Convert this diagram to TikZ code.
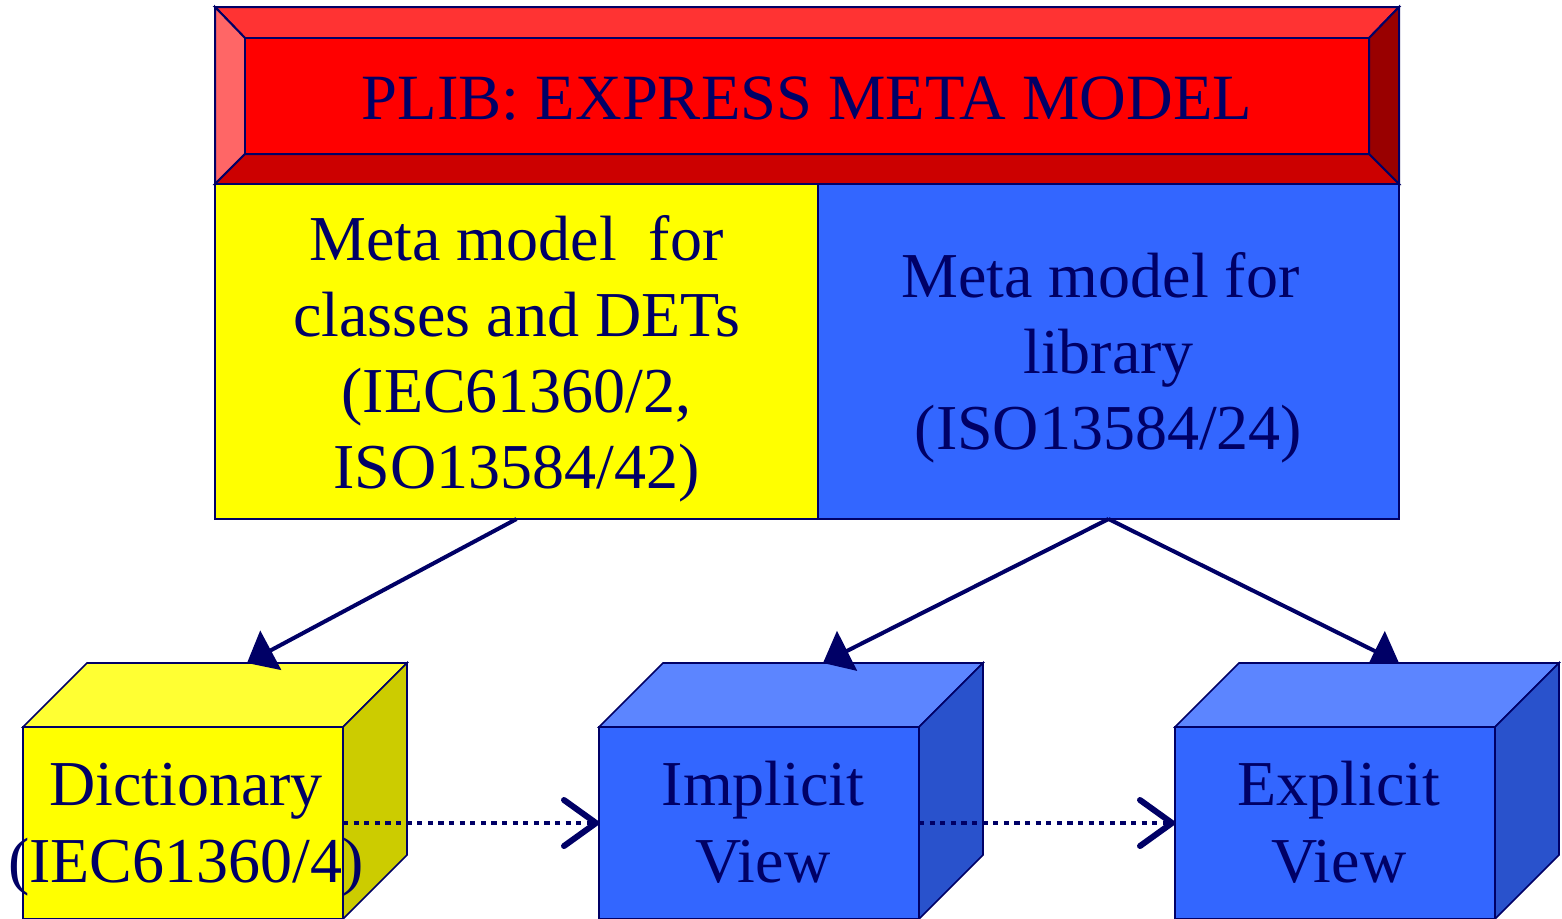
\documentclass[tikz,border=0pt]{standalone}
\usepackage{fontspec}
\setmainfont{Liberation Serif}
\usetikzlibrary{arrows.meta}
\definecolor{navy}{HTML}{000066}
\definecolor{bvtop}{HTML}{FF3333}
\definecolor{bvleft}{HTML}{FF6666}
\definecolor{bvright}{HTML}{990000}
\definecolor{bvbottom}{HTML}{CC0000}
\definecolor{bvcenter}{HTML}{FF0000}
\definecolor{yel}{HTML}{FFFF00}
\definecolor{yeltop}{HTML}{FFFF33}
\definecolor{yelright}{HTML}{CCCC00}
\definecolor{blu}{HTML}{3366FF}
\definecolor{blutop}{HTML}{5C85FF}
\definecolor{bluright}{HTML}{2952CC}
\begin{document}
\begin{tikzpicture}[x=0.5pt,y=-0.5pt,
  face/.style={draw=navy,line width=1pt},
  panel/.style={draw=navy,line width=1pt,inner sep=0pt,outer sep=0pt,minimum height=167.5pt},
  cubefront/.style={draw=navy,line width=0.8pt,minimum width=160pt,minimum height=96pt,inner sep=0pt,outer sep=0pt},
  cubeface/.style={draw=navy,line width=0.8pt},
  lbl/.style={anchor=base,text=navy,inner sep=0pt,outer sep=0pt},
  solidarrow/.style={draw=navy,line width=2pt,-{Triangle[length=13.5pt,width=22pt]}},
  dotarrow/.style={draw=navy,line width=2.4pt,dash pattern=on 2.6pt off 2.7pt,
     -{Straight Barb[length=16pt,width=23pt,line width=3pt,round]}}
]
\fill[white] (0,0) rectangle (1562,918);
\useasboundingbox (0,0) rectangle (1562,918);

% header bevel
\node[inner sep=0pt,outer sep=0pt,minimum width=592pt,minimum height=88.5pt] (plib) at (807,95.5) {};
\node[inner sep=0pt,outer sep=0pt,minimum width=562pt,minimum height=58pt] (plibin) at (807,96) {};
\filldraw[face,fill=bvtop] (plib.north west) -- (plib.north east) -- (plibin.north east) -- (plibin.north west) -- cycle;
\filldraw[face,fill=bvleft] (plib.north west) -- (plibin.north west) -- (plibin.south west) -- (plib.south west) -- cycle;
\filldraw[face,fill=bvright] (plib.north east) -- (plib.south east) -- (plibin.south east) -- (plibin.north east) -- cycle;
\filldraw[face,fill=bvbottom] (plib.south west) -- (plibin.south west) -- (plibin.south east) -- (plib.south east) -- cycle;
\filldraw[face,fill=bvcenter] (plibin.north west) rectangle (plibin.south east);
\node[lbl,font=\fontsize{32.3pt}{38pt}\selectfont] (plibtxt) at (807,119) {PLIB: EXPRESS META MODEL};

% meta model panels
\node[panel,fill=yel,minimum width=301.5pt] (ymeta) at (516.5,351.5) {};
\node[panel,fill=blu,minimum width=290.5pt] (bmeta) at (1108.5,351.5) {};
\node[lbl] (ymetatxt) at (516.5,260) {\fontsize{32pt}{38pt}\selectfont\begin{tabular}[t]{@{}c@{}}Meta model~~for\\classes and DETs\\(IEC61360/2,\\ISO13584/42)\end{tabular}};
\node[lbl] (bmetatxt) at (1108.5,297) {\fontsize{32pt}{38.2pt}\selectfont\begin{tabular}[t]{@{}c@{}}Meta model for\ \null\\library\\(ISO13584/24)\end{tabular}};

% arrow to explicit view (partly hidden by the cube)
\coordinate (expltop) at (1399,663);
\draw[solidarrow] (bmeta.south) -- (expltop);

% dictionary cube
\node[cubefront,fill=yel] (dict) at (183,823) {};
\filldraw[cubeface,fill=yeltop] (dict.north west) -- ++(64,-64) -- ++(320,0) -- (dict.north east) -- cycle;
\filldraw[cubeface,fill=yelright] (dict.north east) -- ++(64,-64) -- ++(0,192) -- (dict.south east) -- cycle;

% implicit cube
\node[cubefront,fill=blu] (impl) at (759,823) {};
\filldraw[cubeface,fill=blutop] (impl.north west) -- ++(64,-64) -- ++(320,0) -- (impl.north east) -- cycle;
\filldraw[cubeface,fill=bluright] (impl.north east) -- ++(64,-64) -- ++(0,192) -- (impl.south east) -- cycle;

% explicit cube
\node[cubefront,fill=blu] (expl) at (1335,823) {};
\filldraw[cubeface,fill=blutop] (expl.north west) -- ++(64,-64) -- ++(320,0) -- (expl.north east) -- cycle;
\filldraw[cubeface,fill=bluright] (expl.north east) -- ++(64,-64) -- ++(0,192) -- (expl.south east) -- cycle;

% solid arrows
\draw[solidarrow] (ymeta.south) -- ([shift={(64,-64)}]dict.north);
\draw[solidarrow] (bmeta.south) -- ([shift={(64,-64)}]impl.north);

% dotted arrows
\draw[dotarrow] (dict.east) -- (impl.west);
\draw[dotarrow] (impl.east) -- (expl.west);

% cube labels
\node[lbl] (dicttxt) at (186,805) {\fontsize{32pt}{38.5pt}\selectfont\begin{tabular}[t]{@{}c@{}}Dictionary\\(IEC61360/4)\end{tabular}};
\node[lbl] (impltxt) at (763,805) {\fontsize{32pt}{38.5pt}\selectfont\begin{tabular}[t]{@{}c@{}}Implicit\\View\end{tabular}};
\node[lbl] (expltxt) at (1339,805) {\fontsize{32pt}{38.5pt}\selectfont\begin{tabular}[t]{@{}c@{}}Explicit\\View\end{tabular}};
\end{tikzpicture}
\end{document}
